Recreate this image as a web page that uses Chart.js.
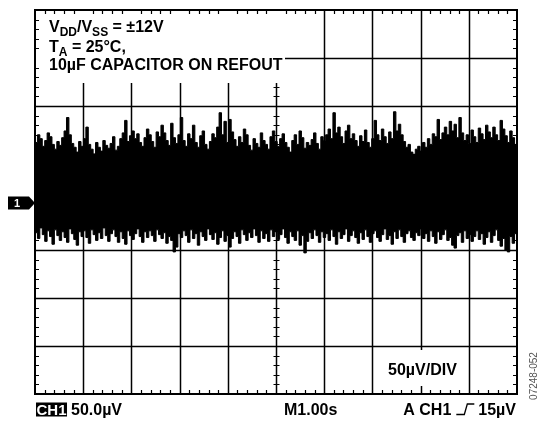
<!DOCTYPE html>
<html>
<head>
<meta charset="utf-8">
<script src="https://cdn.jsdelivr.net/npm/chart.js@4.4.0/dist/chart.umd.min.js"></script>
<style>
  html, body { margin: 0; padding: 0; background: #fff; }
  canvas { display: block; }
</style>
</head>
<body>
<canvas id="scope" width="543" height="423"></canvas>
<script>
// noise envelope, in µV (50µV/div, 8 divisions)
const highs = [
  62,70,66,58,64,72,68,60,55,63,59,67,74,88,70,61,57,52,63,58,
  66,78,60,55,50,62,57,53,64,59,56,61,68,54,58,66,72,85,63,69,
  74,66,71,62,58,67,76,70,63,57,73,68,80,72,64,59,82,67,61,70,
  88,64,58,71,66,80,62,57,69,74,60,55,63,71,67,78,93,70,84,62,
  86,73,65,58,68,62,76,70,59,54,66,61,57,72,64,60,55,68,74,63,
  58,66,71,62,57,52,64,70,60,74,67,56,62,59,65,72,61,55,68,64,
  70,76,66,93,72,78,68,61,74,80,66,71,64,58,69,63,75,62,57,66,
  85,70,64,76,68,61,73,66,94,74,81,70,63,57,60,52,49,55,58,53,
  62,57,66,60,71,68,86,65,72,78,70,84,74,81,67,88,72,64,70,61,
  75,68,62,77,71,65,80,73,67,78,70,64,85,76,69,62,74,67,60,71
];
const lows = [
  -32,-38,-27,-34,-41,-30,-36,-44,-29,-35,-40,-31,-37,-42,-28,-33,-39,-45,-31,-36,
  -30,-37,-43,-29,-34,-40,-32,-38,-27,-35,-41,-33,-29,-36,-42,-31,-38,-44,-30,-35,
  -39,-33,-28,-36,-42,-31,-37,-30,-35,-41,-29,-34,-38,-32,-43,-36,-40,-52,-47,-33,
  -37,-30,-35,-42,-29,-38,-33,-45,-31,-36,-40,-28,-34,-39,-32,-44,-37,-30,-41,-35,
  -47,-38,-31,-36,-43,-29,-34,-40,-32,-37,-28,-35,-42,-30,-38,-33,-41,-29,-36,-31,
  -39,-34,-28,-37,-43,-31,-36,-40,-30,-45,-35,-53,-41,-32,-38,-29,-35,-42,-31,-37,
  -33,-40,-29,-36,-44,-31,-38,-34,-28,-41,-35,-30,-37,-43,-32,-39,-29,-36,-42,-33,
  -30,-37,-41,-34,-28,-39,-35,-44,-31,-38,-29,-36,-42,-33,-30,-37,-40,-32,-35,-28,
  -38,-33,-41,-30,-36,-43,-31,-39,-34,-29,-40,-37,-45,-48,-35,-32,-42,-30,-38,-34,
  -41,-36,-30,-39,-33,-44,-37,-31,-42,-35,-29,-40,-46,-38,-50,-52,-36,-43,-33,-39
];
const samples = highs.map((v, i) => i);
const yTicks = [-200, -150, -100, -50, 0, 50, 100, 150, 200];
const xDivs = 10;
const infoLines = ['= ±12V', '= 25°C,', '10µF CAPACITOR ON REFOUT'];
const scaleLabel = '50µV/DIV';
const bottomLabels = { ch: 'CH1', volts: '50.0µV', time: 'M1.00s', trig: 'A CH1', trigLevel: '15µV' };
const figId = '07248-052';

const BOLD = 'bold 16px "Liberation Sans", Arial, sans-serif';
const SUB = 'bold 12px "Liberation Sans", Arial, sans-serif';

const scopePlugin = {
  id: 'scope',
  beforeDatasetsDraw(chart) {
    const c = chart.ctx, a = chart.chartArea, ys = chart.scales.y;
    const w = a.right - a.left, h = a.bottom - a.top;
    c.save();
    c.strokeStyle = '#000';
    c.lineWidth = 1.5;
    // major grid
    c.beginPath();
    for (let i = 1; i < xDivs; i++) {
      const x = Math.round(a.left + w * i / xDivs) + 0.5;
      c.moveTo(x, a.top); c.lineTo(x, a.bottom);
    }
    yTicks.slice(1, -1).forEach(v => {
      const y = Math.round(ys.getPixelForValue(v)) + 0.5;
      c.moveTo(a.left, y); c.lineTo(a.right, y);
    });
    c.stroke();
    // white boxes behind labels
    c.fillStyle = '#fff';
    c.fillRect(a.left + 1, a.top + 1, 249, 72);
    c.fillRect(386, 350, 80, 36);
    // minor ticks
    c.lineWidth = 1.2;
    c.beginPath();
    const cx = Math.round(a.left + w / 2) + 0.5;
    const cy = Math.round(ys.getPixelForValue(0)) + 0.5;
    for (let i = 1; i < xDivs * 5; i++) {
      if (i % 5 === 0) continue;
      const x = Math.round(a.left + w * i / (xDivs * 5)) + 0.5;
      c.moveTo(x, a.top); c.lineTo(x, a.top + 4);
      c.moveTo(x, a.bottom); c.lineTo(x, a.bottom - 4);
      c.moveTo(x, cy - 3); c.lineTo(x, cy + 3);
    }
    for (let i = 1; i < 40; i++) {
      if (i % 5 === 0) continue;
      const y = Math.round(a.top + h * i / 40) + 0.5;
      c.moveTo(a.left, y); c.lineTo(a.left + 4, y);
      c.moveTo(a.right, y); c.lineTo(a.right - 4, y);
      if (y > a.top + 72) { c.moveTo(cx - 3, y); c.lineTo(cx + 3, y); }
    }
    c.stroke();
    c.restore();
  },
  afterDatasetsDraw(chart) {
    const c = chart.ctx, a = chart.chartArea, ys = chart.scales.y;
    c.save();
    // frame
    c.strokeStyle = '#000';
    c.lineWidth = 2;
    c.strokeRect(a.left, a.top, a.right - a.left, a.bottom - a.top);

    c.fillStyle = '#000';
    c.textBaseline = 'alphabetic';
    c.textAlign = 'left';
    // line 1: VDD/VSS = ±12V
    let x = 49;
    c.font = BOLD; c.fillText('V', x, 32); x += c.measureText('V').width;
    c.font = SUB; c.fillText('DD', x, 36); x += c.measureText('DD').width;
    c.font = BOLD; c.fillText('/V', x, 32); x += c.measureText('/V').width;
    c.font = SUB; c.fillText('SS', x, 36); x += c.measureText('SS').width;
    c.font = BOLD; c.fillText(' ' + infoLines[0], x, 32);
    // line 2: TA = 25°C,
    x = 49;
    c.fillText('T', x, 52); x += c.measureText('T').width;
    c.font = SUB; c.fillText('A', x, 56); x += c.measureText('A').width;
    c.font = BOLD; c.fillText(' ' + infoLines[1], x, 52);
    // line 3
    c.fillText(infoLines[2], 49, 70);

    // volts/div label
    c.fillText(scaleLabel, 388, 375);

    // channel marker
    const my = ys.getPixelForValue(0) + 1;
    c.beginPath();
    c.moveTo(8, my - 6.5); c.lineTo(29, my - 6.5); c.lineTo(35, my);
    c.lineTo(29, my + 6.5); c.lineTo(8, my + 6.5); c.closePath();
    c.fill();
    c.fillStyle = '#fff';
    c.font = 'bold 11px "Liberation Sans", Arial, sans-serif';
    c.fillText('1', 14, my + 4);

    // bottom status line
    const by = 415;
    c.font = 'bold 15px "Liberation Sans", Arial, sans-serif';
    const chw = c.measureText(bottomLabels.ch).width;
    c.fillStyle = '#000';
    c.fillRect(36, by - 12.5, chw + 1, 14);
    c.fillStyle = '#fff';
    c.fillText(bottomLabels.ch, 36.5, by);
    c.fillStyle = '#000';
    c.font = BOLD;
    c.fillText(bottomLabels.volts, 71, by);
    c.fillText(bottomLabels.time, 284, by);
    c.textAlign = 'right';
    c.fillText(bottomLabels.trigLevel, 516, by);
    const lw = c.measureText(bottomLabels.trigLevel).width;
    const gx = 516 - lw - 22;
    c.lineWidth = 1.3;
    c.beginPath();
    c.moveTo(gx, by - 0.5); c.lineTo(gx + 8, by - 0.5);
    c.lineTo(gx + 11, by - 11); c.lineTo(gx + 18, by - 11);
    c.stroke();
    c.fillText(bottomLabels.trig, gx - 5, by);

    // figure id
    c.translate(537, 376);
    c.rotate(-Math.PI / 2);
    c.textAlign = 'center';
    c.fillStyle = '#555';
    c.font = '10px "Liberation Sans", Arial, sans-serif';
    c.fillText(figId, 0, 0);
    c.restore();
  }
};

new Chart(document.getElementById('scope'), {
  type: 'line',
  data: {
    labels: samples,
    datasets: [
      {
        data: highs,
        stepped: true,
        borderColor: '#000',
        borderWidth: 1,
        pointRadius: 0,
        fill: false
      },
      {
        data: lows,
        stepped: true,
        borderColor: '#000',
        borderWidth: 1,
        pointRadius: 0,
        backgroundColor: '#000',
        fill: '-1'
      }
    ]
  },
  options: {
    responsive: false,
    animation: false,
    devicePixelRatio: 1,
    layout: { padding: { left: 35, top: 10, right: 26, bottom: 29 } },
    plugins: { legend: { display: false }, tooltip: { enabled: false } },
    scales: {
      x: { display: false },
      y: { display: false, min: yTicks[0], max: yTicks[yTicks.length - 1] }
    }
  },
  plugins: [scopePlugin]
});
</script>
</body>
</html>
